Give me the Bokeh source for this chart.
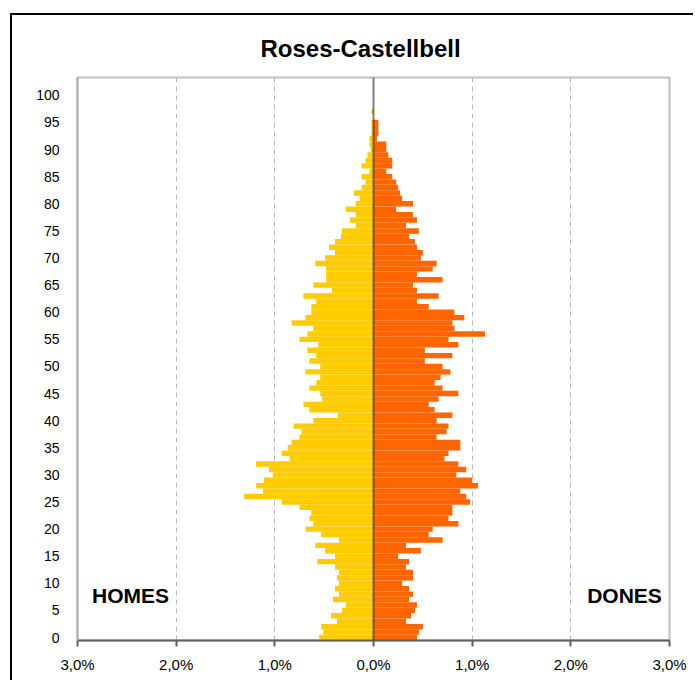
from bokeh.plotting import figure
from bokeh.models import (Range1d, FixedTicker, CustomJSTickFormatter, Span, Label,
                          ColumnDataSource)
from bokeh.embed import file_html
from bokeh.resources import INLINE

title = "Roses-Castellbell"
label_men = "HOMES"
label_women = "DONES"

ages = list(range(0, 101))

# percentage of total population, men (left) and women (right)
men = [0.55, 0.51, 0.53, 0.37, 0.43, 0.32, 0.28, 0.41, 0.35, 0.39,
       0.35, 0.37, 0.35, 0.39, 0.57, 0.39, 0.49, 0.59, 0.35, 0.53,
       0.69, 0.61, 0.65, 0.63, 0.75, 0.93, 1.31, 1.12, 1.19, 1.11,
       1.02, 1.06, 1.19, 0.85, 0.93, 0.87, 0.83, 0.75, 0.73, 0.81,
       0.61, 0.36, 0.65, 0.71, 0.52, 0.54, 0.65, 0.58, 0.54, 0.69,
       0.54, 0.65, 0.58, 0.67, 0.56, 0.75, 0.67, 0.61, 0.83, 0.69,
       0.63, 0.63, 0.58, 0.71, 0.42, 0.61, 0.48, 0.48, 0.48, 0.59,
       0.49, 0.39, 0.45, 0.39, 0.33, 0.32, 0.18, 0.24, 0.18, 0.28,
       0.18, 0.14, 0.20, 0.12, 0.08, 0.12, 0.04, 0.12, 0.08, 0.06,
       0.03, 0.04, 0.04, 0.02, 0.02, 0.02, 0.0, 0.02, 0.0, 0.0,
       0.0]

women = [0.44, 0.46, 0.50, 0.33, 0.38, 0.42, 0.44, 0.36, 0.40, 0.36,
         0.29, 0.40, 0.40, 0.33, 0.36, 0.25, 0.48, 0.33, 0.70, 0.56,
         0.60, 0.86, 0.76, 0.80, 0.80, 0.98, 0.94, 0.88, 1.06, 1.00,
         0.84, 0.94, 0.86, 0.72, 0.76, 0.88, 0.88, 0.64, 0.74, 0.76,
         0.64, 0.80, 0.62, 0.56, 0.66, 0.86, 0.70, 0.62, 0.68, 0.78,
         0.70, 0.52, 0.80, 0.52, 0.86, 0.76, 1.13, 0.82, 0.80, 0.92,
         0.82, 0.56, 0.44, 0.66, 0.44, 0.40, 0.70, 0.44, 0.60, 0.64,
         0.48, 0.50, 0.44, 0.42, 0.36, 0.46, 0.33, 0.44, 0.40, 0.23,
         0.40, 0.29, 0.27, 0.25, 0.23, 0.19, 0.13, 0.19, 0.19, 0.15,
         0.13, 0.13, 0.035, 0.05, 0.05, 0.05, 0.0, 0.0, 0.0, 0.0,
         0.0]

x_ticks = [-3, -2, -1, 0, 1, 2, 3]
y_ticks = list(range(0, 101, 5))

FONT = "Liberation Sans"

p = figure(width=683, height=667, output_backend="svg", toolbar_location=None,
           x_range=Range1d(-3, 3), y_range=Range1d(-0.55, 103.3),
           min_border_left=65, min_border_right=26, min_border_top=62,
           min_border_bottom=42, margin=(13, 0, 0, 10),
           styles={"border-left": "2px solid black",
                   "border-top": "2px solid black"})
p.background_fill_color = "white"
p.border_fill_color = "white"
p.outline_line_color = "#c0c0c0"
p.outline_line_width = 2

p.title.text = title
p.title.align = "left"
p.title.offset = 183
p.title.standoff = 31
p.title.text_font = FONT
p.title.text_font_style = "bold"
p.title.text_font_size = "24px"
p.title.text_color = "black"

src = ColumnDataSource(dict(age=ages, men=[-v for v in men], women=women,
                            zero=[0] * len(ages)))
p.hbar(y="age", left="men", right="zero", height=1.0, source=src,
       fill_color="#FFCC00", line_color=None)
p.hbar(y="age", left="zero", right="women", height=1.0, source=src,
       fill_color="#FF6600", line_color=None)

# grid
p.ygrid.grid_line_color = None
p.xgrid.ticker = FixedTicker(ticks=[-2, -1, 1, 2])
p.xgrid.grid_line_color = "#b8b8b8"
p.xgrid.grid_line_dash = "5 4"
p.xgrid.grid_line_width = 1

# zero line
p.add_layout(Span(location=0, dimension="height", line_color="black",
                  line_alpha=0.5, line_width=2))

# x axis
xa = p.xaxis[0]
xa.ticker = FixedTicker(ticks=x_ticks)
xa.formatter = CustomJSTickFormatter(
    code="return Math.abs(tick).toFixed(1).replace('.', ',') + '%';")
xa.axis_line_color = "#606060"
xa.axis_line_width = 2
xa.major_tick_line_color = "#606060"
xa.major_tick_line_width = 2
xa.major_tick_out = 6
xa.major_tick_in = 0
xa.minor_tick_line_color = None
xa.major_label_standoff = 9
xa.major_label_text_font = FONT
xa.major_label_text_font_size = "15px"
xa.major_label_text_color = "black"

# y axis
ya = p.yaxis[0]
ya.ticker = FixedTicker(ticks=y_ticks)
ya.axis_line_color = "#b0b0b0"
ya.axis_line_width = 2
ya.major_tick_line_color = None
ya.minor_tick_line_color = None
ya.major_label_standoff = 12
ya.major_label_text_font = FONT
ya.major_label_text_font_size = "14px"
ya.major_label_text_color = "black"

# side labels
p.add_layout(Label(x=-2.463, y=7.7, text=label_men, text_align="center",
                   text_baseline="middle", text_font=FONT,
                   text_font_style="bold", text_font_size="21px",
                   text_color="black"))
p.add_layout(Label(x=2.544, y=7.7, text=label_women, text_align="center",
                   text_baseline="middle", text_font=FONT,
                   text_font_style="bold", text_font_size="21px",
                   text_color="black"))

open("out.html", "w").write(file_html(p, INLINE))
